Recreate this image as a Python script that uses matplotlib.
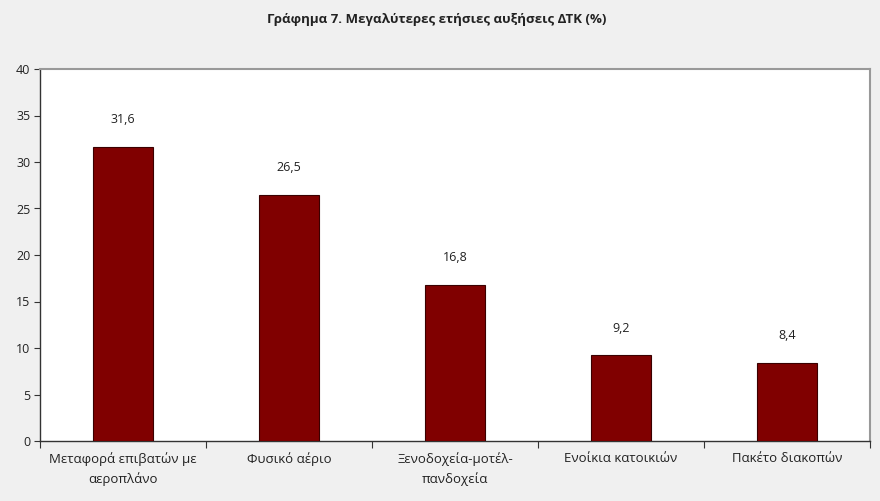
import numpy as np
import matplotlib.pyplot as plt

plt.rcParams['font.family'] = ['Open Sans', 'DejaVu Sans']

categories = ['Μεταφορά επιβατών με\nαεροπλάνο', 'Φυσικό αέριο',
              'Ξενοδοχεία-μοτέλ-\nπανδοχεία', 'Ενοίκια κατοικιών', 'Πακέτο διακοπών']
values = [31.6, 26.5, 16.8, 9.2, 8.4]
value_labels = ['31,6', '26,5', '16,8', '9,2', '8,4']
y_ticks = [0, 5, 10, 15, 20, 25, 30, 35, 40]

fig = plt.figure(figsize=(8.8, 5.01), dpi=100, facecolor='#f0f0f0')
ax = fig.add_axes([40/880, 1 - 441/501, 830/880, 372/501])
ax.set_facecolor('white')

x = np.arange(len(categories))
bars = ax.bar(x, values, width=0.36, color='#800000', edgecolor='#3a0000', linewidth=0.8, zorder=3)

for b, lab in zip(bars, value_labels):
    ax.annotate(lab, (b.get_x() + b.get_width() / 2, b.get_height()),
                xytext=(0, 15), textcoords='offset points',
                ha='center', va='bottom', fontsize=9, color='#222222')

ax.set_xlim(-0.5, len(categories) - 0.5)
ax.set_ylim(0, 40)
ax.set_yticks(y_ticks)
ax.set_yticklabels([str(t) for t in y_ticks], fontsize=9, color='#222222')
ax.tick_params(axis='y', direction='out', length=4, width=0.8, color='#333333', pad=3)

# category boundary ticks on the x axis
ax.set_xticks(np.arange(-0.5, len(categories), 1.0))
ax.set_xticklabels([])
ax.set_xticks(x, minor=True)
ax.set_xticklabels(categories, minor=True, fontsize=9.5, color='#222222', linespacing=1.6)
ax.tick_params(axis='x', which='major', direction='out', length=5, width=0.8, color='#333333')
ax.tick_params(axis='x', which='minor', length=0, pad=8)
for lab in ax.get_xticklabels(minor=True):
    lab.set_verticalalignment('top')

for s in ['left', 'bottom']:
    ax.spines[s].set_color('#333333')
    ax.spines[s].set_linewidth(1.0)
for s in ['top', 'right']:
    ax.spines[s].set_color('#999999')
    ax.spines[s].set_linewidth(1.5)

fig.text(437/880, 1 - 20/501, 'Γράφημα 7. Μεγαλύτερες ετήσιες αυξήσεις ΔΤΚ (%)',
         ha='center', va='center', fontsize=9.5, fontweight='bold', color='#222222')

fig.savefig('out.png', dpi=100, facecolor=fig.get_facecolor())
